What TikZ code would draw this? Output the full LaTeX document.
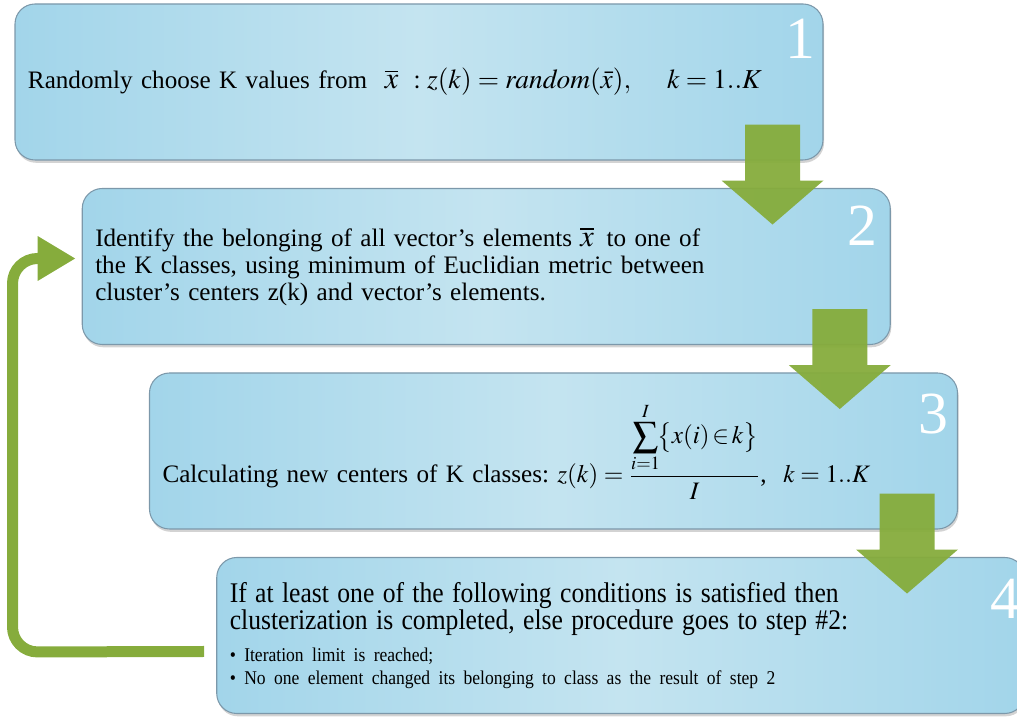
\documentclass[tikz,border=0pt]{standalone}
\usepackage{mathptmx}
\usepackage{fontspec}
\setmainfont{Liberation Serif}
\newfontfamily\narrowserif[FakeStretch=0.9, WordSpace=0.8]{Liberation Serif}
\usetikzlibrary{positioning, calc, arrows.meta, shadows}
\definecolor{BoxEdgeBlue}{HTML}{7C98AA}
\definecolor{SkyEdge}{HTML}{A2D5EA}
\definecolor{SkyMid}{HTML}{C4E4F0}
\definecolor{LoopGreen}{HTML}{86AC3C}

\begin{document}
\begin{tikzpicture}[
  stepbox/.style={rectangle, rounded corners=0.4cm, draw=BoxEdgeBlue, line width=0.6pt,
              left color=SkyEdge, right color=SkyEdge, middle color=SkyMid,
              minimum width=16.16cm, minimum height=3.12cm, text width=15.64cm, inner xsep=0.26cm,
              align=left, font=\fontsize{14.3}{15.4}\selectfont,
              drop shadow={shadow xshift=0.6pt, shadow yshift=-1.6pt, opacity=0.35}},
  stepnum/.style={text=white, font=\fontsize{34}{34}\selectfont, inner sep=0pt},
  downarrow/.pic={\fill[LoopGreen, fill opacity=0.95] (-0.55,0) -- (0.55,0) -- (0.55,-1.12) -- (1.02,-1.12)
              -- (0,-2) -- (-1.02,-1.12) -- (-0.55,-1.12) -- cycle;},
  looparrow/.style={-{Triangle[length=0.76cm, width=0.84cm]}, line width=0.22cm, LoopGreen, rounded corners=0.5cm}
]
  \useasboundingbox (0,0) rectangle (20.34,-14.36);
  \node[stepbox] (step1) at (8.38,-1.64)
    {Randomly choose K values from\hspace{0.7em}{\LARGE$\overline{x}$}\hspace{0.6em}{\fontsize{15.6}{16}\selectfont$:z(k)=\mathit{random}(\bar{x}),\hspace{1.2em}k=1..K$}};
  \node[stepbox] (step2) at ($(step1.center)+(1.345,-3.69)$)
    {Identify the belonging of all vector's elements {\LARGE$\overline{x}$}\, to one of\\
     the K classes, using minimum of Euclidian metric between\\
     cluster's centers z(k) and vector's elements.};
  \node[stepbox] (step3) at ($(step2.center)+(1.345,-3.69)$)
    {Calculating new centers of K classes:\ $z(k)=\displaystyle\frac{\displaystyle\sum_{i=1}^{I}\!\bigl\{x(i)\!\in\! k\bigr\}}{I}$,\ \ $k=1..K$};
  \node[stepbox] (step4) at ($(step3.center)+(1.345,-3.69)$)
    {{\narrowserif\fontsize{16.2}{15.6}\selectfont If at least one of the following conditions is satisfied then\\
     clusterization is completed, else procedure goes to step \#2:\par}\vspace{5.5pt}
     {\narrowserif\fontsize{11.1}{13}\selectfont \textbullet\ Iteration limit is reached;\\
     \textbullet\ No one element changed its belonging to class as the result of step 2\par}};
  % step numbers
  \node[stepnum] (num1) at ($(step1.north east)+(-0.46,-0.7)$) {1};
  \node[stepnum] (num2) at ($(step2.north east)+(-0.56,-0.76)$) {2};
  \node[stepnum] (num3) at ($(step3.north east)+(-0.5,-0.84)$) {3};
  \node[stepnum] (num4) at ($(step4.north east)+(-0.4,-0.84)$) {4};
  % block arrows between steps
  \pic at ($(step1.south east)+(-1.02,0.72)$) {downarrow};
  \pic at ($(step2.south east)+(-1.02,0.72)$) {downarrow};
  \pic at ($(step3.south east)+(-1.02,0.72)$) {downarrow};
  % back to step 2
  \coordinate (loopstart) at ($(step4.west)+(-0.24,-0.32)$);
  \coordinate (looptip) at ($(step2.west)+(-0.12,0.16)$);
  \coordinate (loopcorner) at (0.25,-13.04);
  \draw[looparrow] (loopstart) -- (loopcorner) |- (looptip);
\end{tikzpicture}
\end{document}
